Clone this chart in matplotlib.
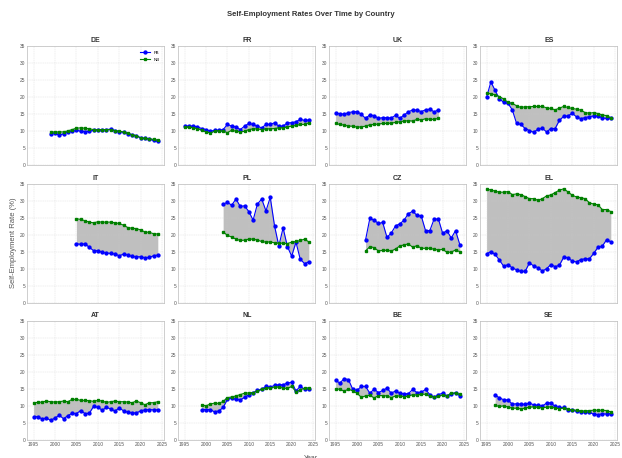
import numpy as np
import matplotlib
matplotlib.use("Agg")
import matplotlib.pyplot as plt

plt.rcParams['font.family'] = ['Liberation Sans', 'DejaVu Sans']

countries = ['DE', 'FR', 'UK', 'ES', 'IT', 'PL', 'CZ', 'EL', 'AT', 'NL', 'BE', 'SE']
start_year = {'DE': 1999, 'FR': 1995, 'UK': 1995, 'ES': 1995, 'IT': 2005, 'PL': 2004,
              'CZ': 2002, 'EL': 1995, 'AT': 1995, 'NL': 1999, 'BE': 1995, 'SE': 1997}

# foreign-born (FB) rates
fb = {
    'DE': [9.3, 9.5, 8.8, 9.3, 9.8, 10.0, 10.3, 10.0, 9.9, 10.0, 10.3, 10.5, 10.5, 10.5, 10.6,
           10.2, 9.9, 9.7, 9.3, 8.9, 8.7, 8.1, 7.9, 7.7, 7.3, 7.0],
    'FR': [11.5, 11.5, 11.5, 11.3, 10.8, 10.5, 10.0, 10.3, 10.3, 10.5, 12.0, 11.5, 11.3, 10.5, 11.5,
           12.3, 12.0, 11.5, 11.0, 12.0, 12.0, 12.5, 11.5, 11.5, 12.5, 12.5, 12.8, 13.5, 13.2, 13.3],
    'UK': [15.3, 15.2, 15.0, 15.5, 15.7, 15.8, 15.0, 13.8, 14.8, 14.6, 13.8, 14.0, 14.0, 13.9, 14.7,
           13.8, 14.8, 15.7, 16.3, 16.2, 15.8, 16.3, 16.5, 15.7, 16.3],
    'ES': [20.0, 24.5, 22.0, 19.5, 18.5, 18.2, 16.3, 12.3, 12.0, 10.8, 10.2, 9.7, 10.6, 10.9, 9.8,
           10.8, 10.8, 13.2, 14.4, 14.5, 15.3, 14.2, 13.7, 14.0, 14.3, 14.5, 14.5, 13.9, 13.8, 14.0],
    'IT': [17.3, 17.2, 17.3, 16.3, 15.3, 15.3, 14.8, 14.6, 14.5, 14.3, 13.8, 14.3, 14.0, 13.6, 13.5,
           13.5, 13.2, 13.3, 13.8, 14.0],
    'PL': [29.0, 29.5, 28.7, 30.5, 28.3, 28.5, 26.8, 24.3, 29.0, 30.5, 27.0, 31.0, 22.6, 16.7, 22.0,
           16.5, 13.7, 17.8, 12.8, 11.5, 12.0],
    'CZ': [18.5, 24.8, 24.3, 23.3, 23.6, 19.2, 20.5, 22.6, 23.2, 24.3, 26.2, 26.9, 25.7, 25.5, 21.2,
           21.2, 24.6, 24.6, 20.4, 21.2, 19.0, 21.2, 17.1],
    'EL': [14.4, 15.0, 14.2, 12.5, 10.7, 11.2, 10.2, 9.7, 9.2, 9.2, 11.7, 10.8, 10.3, 9.3, 10.0,
           11.2, 10.6, 11.0, 13.4, 13.2, 12.2, 12.0, 12.7, 12.9, 12.9, 14.5, 16.3, 16.6, 18.5, 17.9],
    'AT': [6.9, 6.9, 6.2, 6.5, 5.8, 6.5, 7.3, 6.3, 7.2, 7.9, 7.8, 8.7, 7.8, 7.9, 9.9,
           9.7, 8.8, 9.6, 9.2, 8.5, 9.5, 8.6, 8.2, 8.0, 8.0, 8.6, 8.9, 9.0, 8.9, 8.9],
    'NL': [9.0, 9.0, 9.0, 8.3, 8.6, 9.6, 12.0, 12.4, 12.0, 11.8, 12.6, 13.3, 13.9, 14.6, 15.0,
           15.8, 15.6, 16.1, 16.3, 16.3, 16.8, 17.0, 14.5, 15.8, 15.0, 15.0],
    'BE': [17.6, 16.8, 18.1, 17.8, 15.0, 14.6, 15.8, 15.8, 13.8, 15.0, 14.0, 14.6, 15.3, 13.8, 14.5,
           13.8, 13.6, 13.7, 14.9, 14.0, 14.1, 14.9, 13.4, 12.6, 13.4, 13.8, 13.0, 13.5, 14.0, 13.0],
    'SE': [13.3, 12.4, 11.9, 11.8, 10.6, 10.7, 10.6, 10.5, 10.9, 10.4, 10.2, 10.0, 10.9, 11.0, 9.9,
           9.6, 9.6, 9.0, 8.8, 8.5, 8.4, 8.2, 8.2, 7.6, 7.5, 7.7, 7.7, 7.8],
}

# native-born (NB) rates
nb = {
    'DE': [9.8, 9.8, 9.8, 9.8, 10.1, 10.5, 10.9, 11.0, 10.9, 10.7, 10.5, 10.4, 10.5, 10.5, 10.5,
           10.2, 10.0, 9.8, 9.4, 9.0, 8.7, 8.0, 7.9, 7.8, 7.6, 7.4],
    'FR': [11.3, 11.2, 11.0, 10.8, 10.3, 9.8, 9.5, 10.0, 10.2, 10.0, 9.6, 10.3, 10.0, 9.8, 10.0,
           10.5, 10.7, 10.7, 10.5, 10.7, 10.7, 10.8, 11.0, 11.0, 11.3, 11.5, 11.7, 12.0, 12.0, 12.5],
    'UK': [12.3, 12.0, 11.8, 11.5, 11.5, 11.2, 11.3, 11.5, 11.9, 12.0, 12.1, 12.3, 12.3, 12.4, 12.6,
           12.8, 13.0, 13.1, 13.0, 13.5, 13.3, 13.7, 13.5, 13.5, 13.8],
    'ES': [21.2, 21.0, 20.7, 20.2, 19.5, 18.5, 18.2, 17.5, 17.0, 17.2, 17.2, 17.3, 17.3, 17.3, 16.9,
           16.7, 16.3, 16.8, 17.3, 17.0, 16.7, 16.5, 16.2, 15.5, 15.3, 15.5, 15.2, 14.8, 14.6, 14.0],
    'IT': [24.7, 24.5, 24.1, 23.7, 23.5, 23.8, 23.7, 23.7, 23.7, 23.5, 23.3, 22.8, 22.1, 21.9, 21.8,
           21.4, 20.8, 20.7, 20.3, 20.2],
    'PL': [20.8, 19.8, 19.3, 18.7, 18.3, 18.4, 18.7, 18.7, 18.4, 18.0, 17.8, 17.9, 17.6, 17.5, 17.5,
           17.4, 17.8, 18.0, 18.3, 18.7, 17.9],
    'CZ': [15.2, 16.5, 16.2, 15.2, 15.4, 15.4, 15.2, 15.8, 16.7, 17.0, 17.3, 16.3, 16.8, 16.0, 16.0,
           16.0, 15.7, 15.5, 15.7, 14.8, 14.9, 15.5, 15.0],
    'EL': [33.3, 33.2, 32.8, 32.5, 32.5, 32.7, 31.8, 32.0, 31.8, 31.2, 30.6, 30.6, 30.1, 30.6, 31.4,
           31.7, 32.4, 33.1, 33.5, 32.6, 31.6, 31.1, 30.9, 30.6, 29.4, 29.0, 28.8, 27.4, 27.4, 26.8],
    'AT': [11.0, 11.1, 11.2, 11.5, 11.3, 11.2, 11.3, 11.5, 11.3, 12.0, 12.0, 11.7, 11.7, 11.6, 11.4,
           11.7, 11.5, 11.1, 11.3, 11.5, 11.3, 11.3, 11.2, 11.0, 11.5, 11.0, 10.4, 11.0, 11.0, 11.3],
    'NL': [10.4, 10.1, 10.6, 10.9, 10.8, 11.4, 12.5, 12.7, 13.0, 13.4, 13.8, 13.9, 14.0, 14.4, 15.0,
           15.3, 15.4, 15.6, 15.6, 15.3, 15.2, 15.8, 14.2, 14.8, 15.3, 15.4],
    'BE': [15.0, 15.0, 14.4, 15.0, 14.5, 13.8, 12.6, 13.0, 13.2, 12.4, 13.1, 13.1, 13.0, 12.5, 13.0,
           13.0, 12.8, 12.9, 13.4, 13.2, 13.5, 13.5, 13.1, 12.6, 12.9, 13.3, 13.0, 13.9, 13.8, 13.5],
    'SE': [10.2, 9.9, 10.1, 9.7, 9.4, 9.4, 9.2, 9.4, 9.7, 9.8, 9.6, 9.5, 9.7, 9.8, 9.4,
           9.3, 9.4, 9.1, 8.9, 8.8, 8.6, 8.6, 8.7, 8.8, 8.8, 8.8, 8.7, 8.3],
}

fig, axes = plt.subplots(3, 4, figsize=(6.22, 4.58), dpi=100, sharex=True)
fig.subplots_adjust(left=0.044, right=0.992, top=0.899, bottom=0.039, wspace=0.105, hspace=0.155)

for ax, c in zip(axes.flat, countries):
    years = np.arange(start_year[c], start_year[c] + len(fb[c]))
    ax.fill_between(years, fb[c], nb[c], color='gray', alpha=0.5, lw=0)
    ax.plot(years, fb[c], color='blue', marker='o', ms=2.1, lw=0.8, label='FB')
    ax.plot(years, nb[c], color='green', marker='s', ms=2.0, lw=0.8, label='NB')
    ax.set_title(c, fontsize=5, fontweight='bold', pad=3, color='#333333')
    ax.set_ylim(0, 35)
    ax.set_yticks(range(0, 36, 5))
    ax.set_xticks(range(1995, 2026, 5))
    ax.grid(True, color='#cccccc', lw=0.3, ls='--', alpha=0.7)
    ax.tick_params(labelsize=3.5, length=0, pad=1.5, colors='#555555')
    for s in ax.spines.values():
        s.set_color('#bbbbbb')
        s.set_linewidth(0.5)

axes[0, 0].legend(loc='upper right', fontsize=3.2, frameon=False, handlelength=2.2,
                  borderaxespad=0.6, labelspacing=0.7)
axes[1, 0].set_ylabel('Self-Employment Rate (%)', fontsize=5.5, color='#555555', labelpad=2)
fig.supxlabel('Year', fontsize=5, y=-0.008, color='#555555')
fig.suptitle('Self-Employment Rates Over Time by Country', fontsize=5.5, fontweight='bold',
             y=0.975, color='#333333')

fig.savefig('out.png', dpi=100)
